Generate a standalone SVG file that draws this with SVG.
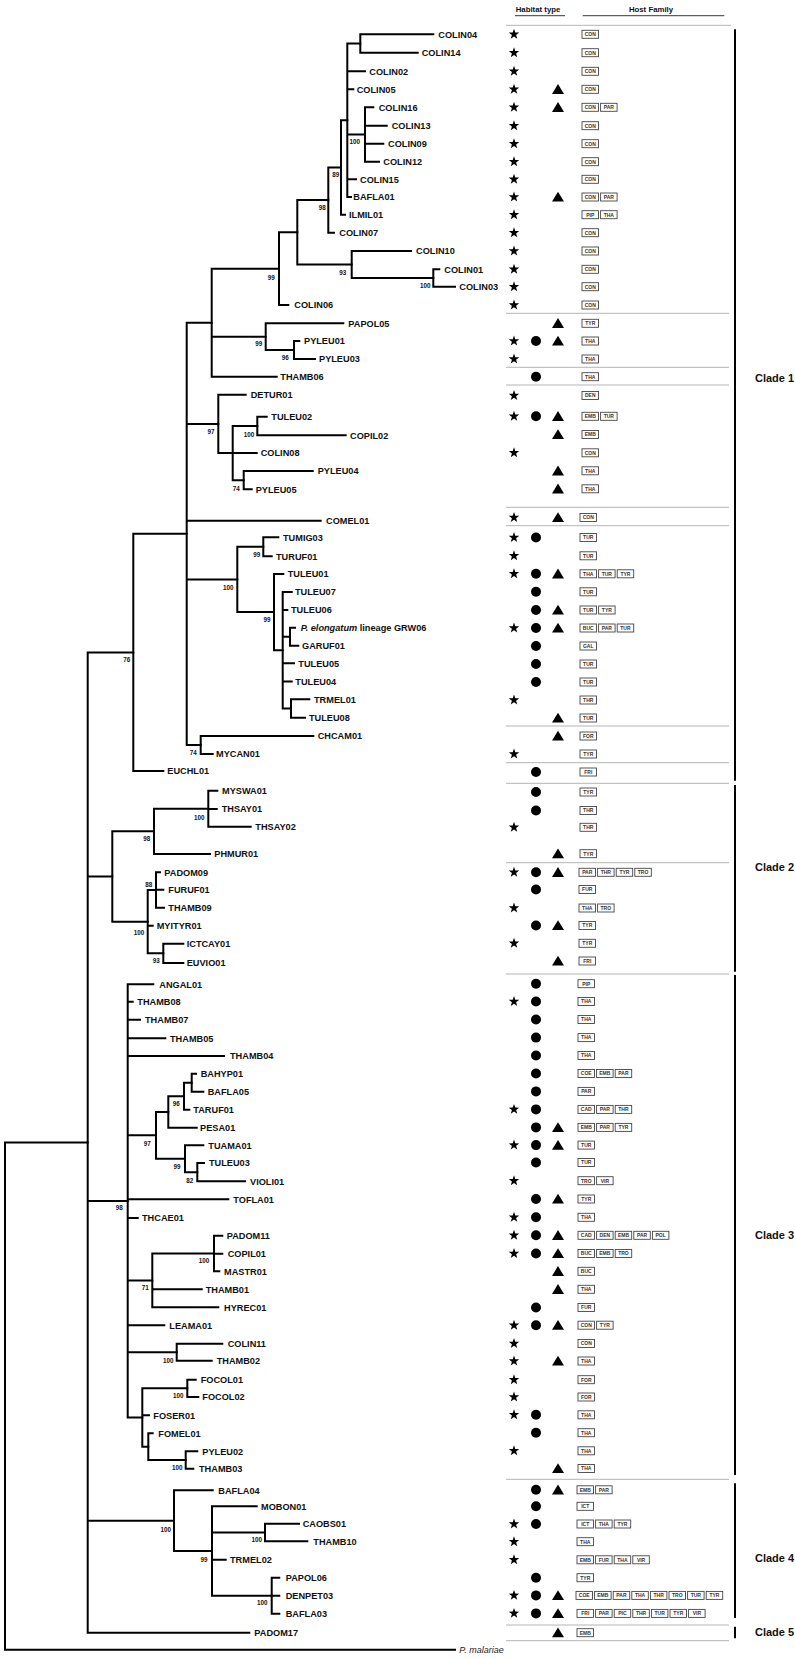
<svg xmlns="http://www.w3.org/2000/svg" xmlns:xlink="http://www.w3.org/1999/xlink" width="795" height="1659" viewBox="0 0 795 1659">
<style>
.br{fill:none;stroke:#000;stroke-width:2;stroke-linecap:square}
.t{font-family:"Liberation Sans",Arial,sans-serif;font-weight:bold;font-size:9.2px;fill:#111}
.bs{font-family:"Liberation Sans",Arial,sans-serif;font-weight:bold;font-size:6.3px;fill:#111;text-anchor:middle}
.hd{font-family:"Liberation Sans",Arial,sans-serif;font-weight:bold;font-size:7.8px;fill:#111;text-anchor:middle}
.cl{font-family:"Liberation Sans",Arial,sans-serif;font-weight:bold;font-size:11px;fill:#111}
.bt{font-family:"Liberation Sans",Arial,sans-serif;font-weight:bold;font-size:5px;fill:#333;text-anchor:middle}
.bx{fill:#fff;stroke:#444;stroke-width:0.9}
.sep{stroke:#b4b4b4;stroke-width:1}
.bar{stroke:#000;stroke-width:2}
</style>
<defs>
<path id="s" d="M0,-5.5 L1.293,-1.78 L5.231,-1.7 L2.092,0.68 L3.233,4.45 L0,2.2 L-3.233,4.45 L-2.092,0.68 L-5.231,-1.7 L-1.293,-1.78 Z" fill="#000"/>
<circle id="c" cx="0" cy="0" r="5" fill="#000"/>
<path id="tr" d="M0,-5.2 L6,4.6 L-6,4.6 Z" fill="#000"/>
<rect id="b" class="bx" x="0" y="-4" width="16.5" height="8"/>
</defs>
<rect width="795" height="1659" fill="#fff"/>

<g id="connectors" class="br">
<path d="M360.3,34.3 V52.7 M360.3,34.3 H433.3 M360.3,52.7 H417.7"/>
<path d="M347.3,43.5 V197 M347.3,43.5 H360.3 M347.3,71.3 H365 M347.3,89.3 H353.3 M347.3,134.5 H365 M347.3,179.3 H356 M347.3,197 H351"/>
<path d="M365,107.3 V161.7 M365,107.3 H373.3 M365,125.7 H386.7 M365,143.7 H383.3 M365,161.7 H379"/>
<path d="M341,120.25 V214.7 M341,120.25 H347.3 M341,214.7 H345"/>
<path d="M328.3,167.5 V232.7 M328.3,167.5 H341 M328.3,232.7 H334"/>
<path d="M433.3,269.3 V286.7 H455 M433.3,269.3 H439.3"/>
<path d="M351.7,251 V278 H433.3 M351.7,251 H411"/>
<path d="M297.3,200.1 V264.5 H351.7 M297.3,200.1 H328.3"/>
<path d="M279,232.3 V305 H288.3 M279,232.3 H297.3"/>
<path d="M294,341 V359 H315 M294,341 H299.3"/>
<path d="M265.7,323.3 V350 H294 M265.7,323.3 H343.3"/>
<path d="M211.7,268.65 V376.7 H276.7 M211.7,268.65 H279 M211.7,336.65 H265.7"/>
<path d="M257.3,416.7 V435.3 H345.7 M257.3,416.7 H266.7"/>
<path d="M243.7,471 V489.3 H251.7 M243.7,471 H312.7"/>
<path d="M232.7,426 V480.15 H243.7 M232.7,426 H257.3 M232.7,453 H256.7"/>
<path d="M218.3,394.7 V453.1 H232.7 M218.3,394.7 H245.7"/>
<path d="M263.3,537.3 V556.3 H271.7 M263.3,537.3 H278.3"/>
<path d="M290,627.7 V645.7 H298.3 M290,627.7 H295"/>
<path d="M291,699.3 V717.7 H305 M291,699.3 H309.3"/>
<path d="M282.7,592 V708.5 H291 M282.7,592 H291.7 M282.7,610 H287.3 M282.7,636.7 H290 M282.7,663.3 H294 M282.7,681.5 H291.7"/>
<path d="M274,574 V650.25 H282.7 M274,574 H283.3"/>
<path d="M237.3,546.8 V612.1 H274 M237.3,546.8 H263.3"/>
<path d="M200.7,736 V754 H212.7 M200.7,736 H313.3"/>
<path d="M186.7,322.7 V745 H200.7 M186.7,322.7 H211.7 M186.7,423.9 H218.3 M186.7,520.7 H320.7 M186.7,579.5 H237.3"/>
<path d="M133.3,533.85 V771 H163.3 M133.3,533.85 H186.7"/>
<path d="M208.3,790.7 V826.7 H250.7 M208.3,790.7 H217.3 M208.3,809 H216.7"/>
<path d="M154,808.7 V854 H210 M154,808.7 H208.3"/>
<path d="M156,872.3 V907.7 H164 M156,872.3 H160 M156,889.7 H163.3"/>
<path d="M163.3,943.7 V963 H183.3 M163.3,943.7 H183.3"/>
<path d="M147.7,890 V953.35 H163.3 M147.7,890 H156 M147.7,925.7 H152.7"/>
<path d="M112.3,831.35 V921.7 H147.7 M112.3,831.35 H154"/>
<path d="M191.7,1073.7 V1091.7 H203.3 M191.7,1073.7 H196"/>
<path d="M184,1082.7 V1109.7 H189.3 M184,1082.7 H191.7"/>
<path d="M168.3,1096.2 V1127.7 H196.7 M168.3,1096.2 H184"/>
<path d="M197.3,1163 V1181.3 H245 M197.3,1163 H204"/>
<path d="M185,1145.3 V1172.15 H197.3 M185,1145.3 H203.3"/>
<path d="M156,1111.95 V1158.7 H185 M156,1111.95 H168.3"/>
<path d="M214,1235.7 V1271.3 H219.3 M214,1235.7 H222.3 M214,1253.7 H222.3"/>
<path d="M152.3,1253.5 V1307.3 H218.3 M152.3,1253.5 H214 M152.3,1289.3 H201.7"/>
<path d="M176.7,1343.7 V1360.7 H211.7 M176.7,1343.7 H222.3"/>
<path d="M187.3,1379.7 V1397 H198.3 M187.3,1379.7 H195.7"/>
<path d="M185.7,1451.3 V1468.7 H193.3 M185.7,1451.3 H197.3"/>
<path d="M148.3,1433.3 V1460 H185.7 M148.3,1433.3 H152.7"/>
<path d="M142.3,1388.35 V1446.65 H148.3 M142.3,1388.35 H187.3 M142.3,1415.3 H149"/>
<path d="M127.7,984.3 V1417.5 H142.3 M127.7,984.3 H153.3 M127.7,1001.7 H132.7 M127.7,1019.7 H140 M127.7,1038.3 H165.3 M127.7,1056 H224 M127.7,1135.3 H156 M127.7,1199.3 H228.3 M127.7,1218 H137.7 M127.7,1280.4 H152.3 M127.7,1325.3 H164.3 M127.7,1352.2 H176.7"/>
<path d="M265,1523.7 V1541.3 H307.3 M265,1523.7 H299"/>
<path d="M271.7,1577.7 V1613.7 H279.3 M271.7,1577.7 H279.3 M271.7,1595.7 H279.3"/>
<path d="M212,1506.3 V1595.7 H271.7 M212,1506.3 H256.7 M212,1532.5 H265 M212,1559.7 H225.7"/>
<path d="M174,1490.3 V1551 H212 M174,1490.3 H212.7"/>
<path d="M87.7,652.4 V1632.7 H249.3 M87.7,652.4 H133.3 M87.7,876.5 H112.3 M87.7,1200.9 H127.7 M87.7,1520.65 H174"/>
<path d="M5,1142.55 V1649.7 H455 M5,1142.55 H87.7"/>
</g>

<g id="taxa">
<text class="t" x="438.3" y="37.6">COLIN04</text>
<text class="t" x="421.7" y="56">COLIN14</text>
<text class="t" x="369.3" y="74.6">COLIN02</text>
<text class="t" x="356.7" y="92.6">COLIN05</text>
<text class="t" x="378.7" y="110.6">COLIN16</text>
<text class="t" x="391.7" y="129">COLIN13</text>
<text class="t" x="388" y="147">COLIN09</text>
<text class="t" x="383.3" y="165">COLIN12</text>
<text class="t" x="360" y="182.6">COLIN15</text>
<text class="t" x="353.3" y="200.3">BAFLA01</text>
<text class="t" x="349" y="218">ILMIL01</text>
<text class="t" x="339.3" y="236">COLIN07</text>
<text class="t" x="416" y="254.3">COLIN10</text>
<text class="t" x="444.3" y="272.6">COLIN01</text>
<text class="t" x="459.3" y="290">COLIN03</text>
<text class="t" x="294.3" y="308.3">COLIN06</text>
<text class="t" x="348.3" y="326.6">PAPOL05</text>
<text class="t" x="304" y="344.3">PYLEU01</text>
<text class="t" x="319" y="362.3">PYLEU03</text>
<text class="t" x="280.3" y="380">THAMB06</text>
<text class="t" x="250.7" y="398">DETUR01</text>
<text class="t" x="271.3" y="420">TULEU02</text>
<text class="t" x="350" y="438.6">COPIL02</text>
<text class="t" x="260.7" y="456.3">COLIN08</text>
<text class="t" x="317.7" y="474.3">PYLEU04</text>
<text class="t" x="255.7" y="492.6">PYLEU05</text>
<text class="t" x="326" y="524">COMEL01</text>
<text class="t" x="283" y="540.6">TUMIG03</text>
<text class="t" x="276" y="559.6">TURUF01</text>
<text class="t" x="287.7" y="577.3">TULEU01</text>
<text class="t" x="295" y="595.3">TULEU07</text>
<text class="t" x="291" y="613.3">TULEU06</text>
<text class="t" x="300.7" y="631"><tspan font-style="italic">P. elongatum</tspan> lineage GRW06</text>
<text class="t" x="302" y="649">GARUF01</text>
<text class="t" x="298.3" y="666.6">TULEU05</text>
<text class="t" x="295.3" y="684.8">TULEU04</text>
<text class="t" x="314" y="702.6">TRMEL01</text>
<text class="t" x="309" y="721">TULEU08</text>
<text class="t" x="317.7" y="739.3">CHCAM01</text>
<text class="t" x="216" y="757.3">MYCAN01</text>
<text class="t" x="167.3" y="774.3">EUCHL01</text>
<text class="t" x="222" y="794">MYSWA01</text>
<text class="t" x="221.7" y="812.3">THSAY01</text>
<text class="t" x="255.3" y="830">THSAY02</text>
<text class="t" x="214.3" y="857.3">PHMUR01</text>
<text class="t" x="164.3" y="875.6">PADOM09</text>
<text class="t" x="168.3" y="893">FURUF01</text>
<text class="t" x="168.3" y="911">THAMB09</text>
<text class="t" x="156.7" y="929">MYITYR01</text>
<text class="t" x="186.7" y="947">ICTCAY01</text>
<text class="t" x="186.7" y="966.3">EUVIO01</text>
<text class="t" x="159.3" y="987.6">ANGAL01</text>
<text class="t" x="137.3" y="1005">THAMB08</text>
<text class="t" x="145" y="1023">THAMB07</text>
<text class="t" x="170" y="1041.6">THAMB05</text>
<text class="t" x="230" y="1059.3">THAMB04</text>
<text class="t" x="200.7" y="1077">BAHYP01</text>
<text class="t" x="207.7" y="1095">BAFLA05</text>
<text class="t" x="193.3" y="1113">TARUF01</text>
<text class="t" x="200" y="1131">PESA01</text>
<text class="t" x="208.3" y="1148.6">TUAMA01</text>
<text class="t" x="209" y="1166.3">TULEU03</text>
<text class="t" x="250" y="1184.6">VIOLI01</text>
<text class="t" x="233.3" y="1202.6">TOFLA01</text>
<text class="t" x="142" y="1221.3">THCAE01</text>
<text class="t" x="226.7" y="1239">PADOM11</text>
<text class="t" x="227.7" y="1257">COPIL01</text>
<text class="t" x="224" y="1274.6">MASTR01</text>
<text class="t" x="205.7" y="1292.6">THAMB01</text>
<text class="t" x="224" y="1310.6">HYREC01</text>
<text class="t" x="169.3" y="1328.6">LEAMA01</text>
<text class="t" x="227.7" y="1347">COLIN11</text>
<text class="t" x="216.7" y="1364">THAMB02</text>
<text class="t" x="200.7" y="1383">FOCOL01</text>
<text class="t" x="202.3" y="1400.3">FOCOL02</text>
<text class="t" x="153.3" y="1418.6">FOSER01</text>
<text class="t" x="158.3" y="1436.6">FOMEL01</text>
<text class="t" x="202.3" y="1454.6">PYLEU02</text>
<text class="t" x="199" y="1472">THAMB03</text>
<text class="t" x="218.3" y="1493.6">BAFLA04</text>
<text class="t" x="261" y="1509.6">MOBON01</text>
<text class="t" x="302.7" y="1527">CAOBS01</text>
<text class="t" x="313.3" y="1544.6">THAMB10</text>
<text class="t" x="230" y="1563">TRMEL02</text>
<text class="t" x="285.7" y="1581">PAPOL06</text>
<text class="t" x="285.7" y="1599">DENPET03</text>
<text class="t" x="285.7" y="1617">BAFLA03</text>
<text class="t" x="254.3" y="1636">PADOM17</text>
<text x="459.3" y="1652.9" font-family="Liberation Sans, Arial, sans-serif" font-style="italic" font-size="9px" fill="#222">P. malariae</text>
</g>

<g id="bootstrap">
<text class="bs" x="354.7" y="143.9">100</text>
<text class="bs" x="335.7" y="177.2">89</text>
<text class="bs" x="322.3" y="209.5">98</text>
<text class="bs" x="342.7" y="274.9">93</text>
<text class="bs" x="425.3" y="288.2">100</text>
<text class="bs" x="271.3" y="279.9">99</text>
<text class="bs" x="258.7" y="345.9">99</text>
<text class="bs" x="285.3" y="359.5">96</text>
<text class="bs" x="211" y="433.9">97</text>
<text class="bs" x="249" y="436.5">100</text>
<text class="bs" x="236.3" y="490.5">74</text>
<text class="bs" x="256.7" y="556.5">99</text>
<text class="bs" x="228.3" y="589.5">100</text>
<text class="bs" x="267" y="622.2">99</text>
<text class="bs" x="193.3" y="754.5">74</text>
<text class="bs" x="126.7" y="662.2">76</text>
<text class="bs" x="199.3" y="819.5">100</text>
<text class="bs" x="146.7" y="840.9">98</text>
<text class="bs" x="148.7" y="886.5">88</text>
<text class="bs" x="139" y="934.5">100</text>
<text class="bs" x="156.3" y="962.9">93</text>
<text class="bs" x="176.3" y="1106.2">96</text>
<text class="bs" x="147.3" y="1145.5">97</text>
<text class="bs" x="177" y="1168.9">99</text>
<text class="bs" x="189.7" y="1182.5">82</text>
<text class="bs" x="119.3" y="1209.5">98</text>
<text class="bs" x="204" y="1262.9">100</text>
<text class="bs" x="145.3" y="1289.5">71</text>
<text class="bs" x="168.3" y="1362.5">100</text>
<text class="bs" x="178.3" y="1397.5">100</text>
<text class="bs" x="177.3" y="1469.5">100</text>
<text class="bs" x="165.7" y="1532.2">100</text>
<text class="bs" x="204" y="1561.9">99</text>
<text class="bs" x="256.7" y="1542.2">100</text>
<text class="bs" x="262.3" y="1604.5">100</text>
</g>

<g id="header">
<text class="hd" x="538" y="11.8">Habitat type</text>
<text class="hd" x="651" y="11.8">Host Family</text>
<line x1="515" y1="15.7" x2="565" y2="15.7" stroke="#222" stroke-width="0.9"/>
<line x1="582.7" y1="15.7" x2="724.3" y2="15.7" stroke="#222" stroke-width="0.9"/>
</g>

<g id="separators" class="sep">
<line x1="506" y1="25.3" x2="731" y2="25.3"/>
<line x1="506" y1="313.3" x2="729" y2="313.3"/>
<line x1="506" y1="367.3" x2="729" y2="367.3"/>
<line x1="506" y1="385" x2="729" y2="385"/>
<line x1="506" y1="507.3" x2="729" y2="507.3"/>
<line x1="506" y1="525.7" x2="729" y2="525.7"/>
<line x1="506" y1="726" x2="729" y2="726"/>
<line x1="506" y1="762.7" x2="729" y2="762.7"/>
<line x1="506" y1="783.3" x2="729" y2="783.3"/>
<line x1="506" y1="862.7" x2="729" y2="862.7"/>
<line x1="506" y1="974" x2="729" y2="974"/>
<line x1="506" y1="1479.3" x2="729" y2="1479.3"/>
<line x1="506" y1="1625" x2="729" y2="1625"/>
<line x1="506" y1="1640.7" x2="729" y2="1640.7"/>
</g>

<g id="clades">
<line class="bar" x1="735" y1="29.3" x2="735" y2="780.7"/>
<line class="bar" x1="735" y1="785" x2="735" y2="971.7"/>
<line class="bar" x1="735" y1="975" x2="735" y2="1475"/>
<line class="bar" x1="735" y1="1483.3" x2="735" y2="1618"/>
<line class="bar" x1="735" y1="1626.7" x2="735" y2="1638.3"/>
<text class="cl" x="755" y="382">Clade 1</text>
<text class="cl" x="755" y="870.7">Clade 2</text>
<text class="cl" x="755" y="1239">Clade 3</text>
<text class="cl" x="755" y="1562.3">Clade 4</text>
<text class="cl" x="755" y="1635.7">Clade 5</text>
</g>

<g id="traits">
<g transform="translate(0,34.3)"><use href="#s" x="514"/><g transform="translate(582,0)"><use href="#b"/><text class="bt" x="8.25" y="1.8">CON</text></g></g>
<g transform="translate(0,52.7)"><use href="#s" x="514"/><g transform="translate(582,0)"><use href="#b"/><text class="bt" x="8.25" y="1.8">CON</text></g></g>
<g transform="translate(0,71.3)"><use href="#s" x="514"/><g transform="translate(582,0)"><use href="#b"/><text class="bt" x="8.25" y="1.8">CON</text></g></g>
<g transform="translate(0,89.3)"><use href="#s" x="514"/><use href="#tr" x="558"/><g transform="translate(582,0)"><use href="#b"/><text class="bt" x="8.25" y="1.8">CON</text></g></g>
<g transform="translate(0,107.3)"><use href="#s" x="514"/><use href="#tr" x="558"/><g transform="translate(582,0)"><use href="#b"/><text class="bt" x="8.25" y="1.8">CON</text><use href="#b" x="18.6"/><text class="bt" x="26.85" y="1.8">PAR</text></g></g>
<g transform="translate(0,125.7)"><use href="#s" x="514"/><g transform="translate(582,0)"><use href="#b"/><text class="bt" x="8.25" y="1.8">CON</text></g></g>
<g transform="translate(0,143.7)"><use href="#s" x="514"/><g transform="translate(582,0)"><use href="#b"/><text class="bt" x="8.25" y="1.8">CON</text></g></g>
<g transform="translate(0,161.7)"><use href="#s" x="514"/><g transform="translate(582,0)"><use href="#b"/><text class="bt" x="8.25" y="1.8">CON</text></g></g>
<g transform="translate(0,179.3)"><use href="#s" x="514"/><g transform="translate(582,0)"><use href="#b"/><text class="bt" x="8.25" y="1.8">CON</text></g></g>
<g transform="translate(0,197)"><use href="#s" x="514"/><use href="#tr" x="558"/><g transform="translate(582,0)"><use href="#b"/><text class="bt" x="8.25" y="1.8">CON</text><use href="#b" x="18.6"/><text class="bt" x="26.85" y="1.8">PAR</text></g></g>
<g transform="translate(0,214.7)"><use href="#s" x="514"/><g transform="translate(582,0)"><use href="#b"/><text class="bt" x="8.25" y="1.8">PIP</text><use href="#b" x="18.6"/><text class="bt" x="26.85" y="1.8">THA</text></g></g>
<g transform="translate(0,232.7)"><use href="#s" x="514"/><g transform="translate(582,0)"><use href="#b"/><text class="bt" x="8.25" y="1.8">CON</text></g></g>
<g transform="translate(0,251)"><use href="#s" x="514"/><g transform="translate(582,0)"><use href="#b"/><text class="bt" x="8.25" y="1.8">CON</text></g></g>
<g transform="translate(0,269.3)"><use href="#s" x="514"/><g transform="translate(582,0)"><use href="#b"/><text class="bt" x="8.25" y="1.8">CON</text></g></g>
<g transform="translate(0,286.7)"><use href="#s" x="514"/><g transform="translate(582,0)"><use href="#b"/><text class="bt" x="8.25" y="1.8">CON</text></g></g>
<g transform="translate(0,305)"><use href="#s" x="514"/><g transform="translate(582,0)"><use href="#b"/><text class="bt" x="8.25" y="1.8">CON</text></g></g>
<g transform="translate(0,323.3)"><use href="#tr" x="558"/><g transform="translate(582,0)"><use href="#b"/><text class="bt" x="8.25" y="1.8">TYR</text></g></g>
<g transform="translate(0,341)"><use href="#s" x="514"/><use href="#c" x="536"/><use href="#tr" x="558"/><g transform="translate(582,0)"><use href="#b"/><text class="bt" x="8.25" y="1.8">THA</text></g></g>
<g transform="translate(0,359)"><use href="#s" x="514"/><g transform="translate(582,0)"><use href="#b"/><text class="bt" x="8.25" y="1.8">THA</text></g></g>
<g transform="translate(0,376.7)"><use href="#c" x="536"/><g transform="translate(582,0)"><use href="#b"/><text class="bt" x="8.25" y="1.8">THA</text></g></g>
<g transform="translate(0,395.5)"><use href="#s" x="514"/><g transform="translate(582,0)"><use href="#b"/><text class="bt" x="8.25" y="1.8">DEN</text></g></g>
<g transform="translate(0,416.3)"><use href="#s" x="514"/><use href="#c" x="536"/><use href="#tr" x="558"/><g transform="translate(582,0)"><use href="#b"/><text class="bt" x="8.25" y="1.8">EMB</text><use href="#b" x="18.6"/><text class="bt" x="26.85" y="1.8">TUR</text></g></g>
<g transform="translate(0,434.5)"><use href="#tr" x="558"/><g transform="translate(582,0)"><use href="#b"/><text class="bt" x="8.25" y="1.8">EMB</text></g></g>
<g transform="translate(0,452.8)"><use href="#s" x="514"/><g transform="translate(582,0)"><use href="#b"/><text class="bt" x="8.25" y="1.8">CON</text></g></g>
<g transform="translate(0,470.8)"><use href="#tr" x="558"/><g transform="translate(582,0)"><use href="#b"/><text class="bt" x="8.25" y="1.8">THA</text></g></g>
<g transform="translate(0,488.8)"><use href="#tr" x="558"/><g transform="translate(582,0)"><use href="#b"/><text class="bt" x="8.25" y="1.8">THA</text></g></g>
<g transform="translate(0,517.5)"><use href="#s" x="514"/><use href="#tr" x="558"/><g transform="translate(580,0)"><use href="#b"/><text class="bt" x="8.25" y="1.8">CON</text></g></g>
<g transform="translate(0,537.5)"><use href="#s" x="514"/><use href="#c" x="536"/><g transform="translate(580,0)"><use href="#b"/><text class="bt" x="8.25" y="1.8">TUR</text></g></g>
<g transform="translate(0,555.8)"><use href="#s" x="514"/><g transform="translate(580,0)"><use href="#b"/><text class="bt" x="8.25" y="1.8">TUR</text></g></g>
<g transform="translate(0,573.8)"><use href="#s" x="514"/><use href="#c" x="536"/><use href="#tr" x="558"/><g transform="translate(580,0)"><use href="#b"/><text class="bt" x="8.25" y="1.8">THA</text><use href="#b" x="18.6"/><text class="bt" x="26.85" y="1.8">TUR</text><use href="#b" x="37.2"/><text class="bt" x="45.45" y="1.8">TYR</text></g></g>
<g transform="translate(0,591.8)"><use href="#c" x="536"/><g transform="translate(580,0)"><use href="#b"/><text class="bt" x="8.25" y="1.8">TUR</text></g></g>
<g transform="translate(0,610)"><use href="#c" x="536"/><use href="#tr" x="558"/><g transform="translate(580,0)"><use href="#b"/><text class="bt" x="8.25" y="1.8">TUR</text><use href="#b" x="18.6"/><text class="bt" x="26.85" y="1.8">TYR</text></g></g>
<g transform="translate(0,628)"><use href="#s" x="514"/><use href="#c" x="536"/><use href="#tr" x="558"/><g transform="translate(580,0)"><use href="#b"/><text class="bt" x="8.25" y="1.8">BUC</text><use href="#b" x="18.6"/><text class="bt" x="26.85" y="1.8">PAR</text><use href="#b" x="37.2"/><text class="bt" x="45.45" y="1.8">TUR</text></g></g>
<g transform="translate(0,646)"><use href="#c" x="536"/><g transform="translate(580,0)"><use href="#b"/><text class="bt" x="8.25" y="1.8">GAL</text></g></g>
<g transform="translate(0,664)"><use href="#c" x="536"/><g transform="translate(580,0)"><use href="#b"/><text class="bt" x="8.25" y="1.8">TUR</text></g></g>
<g transform="translate(0,682)"><use href="#c" x="536"/><g transform="translate(580,0)"><use href="#b"/><text class="bt" x="8.25" y="1.8">TUR</text></g></g>
<g transform="translate(0,700)"><use href="#s" x="514"/><g transform="translate(580,0)"><use href="#b"/><text class="bt" x="8.25" y="1.8">THR</text></g></g>
<g transform="translate(0,718)"><use href="#tr" x="558"/><g transform="translate(580,0)"><use href="#b"/><text class="bt" x="8.25" y="1.8">TUR</text></g></g>
<g transform="translate(0,736)"><use href="#tr" x="558"/><g transform="translate(580,0)"><use href="#b"/><text class="bt" x="8.25" y="1.8">FOR</text></g></g>
<g transform="translate(0,754)"><use href="#s" x="514"/><g transform="translate(580,0)"><use href="#b"/><text class="bt" x="8.25" y="1.8">TYR</text></g></g>
<g transform="translate(0,772)"><use href="#c" x="536"/><g transform="translate(580,0)"><use href="#b"/><text class="bt" x="8.25" y="1.8">FRI</text></g></g>
<g transform="translate(0,792)"><use href="#c" x="536"/><g transform="translate(580,0)"><use href="#b"/><text class="bt" x="8.25" y="1.8">TYR</text></g></g>
<g transform="translate(0,810.5)"><use href="#c" x="536"/><g transform="translate(580,0)"><use href="#b"/><text class="bt" x="8.25" y="1.8">THR</text></g></g>
<g transform="translate(0,827.3)"><use href="#s" x="514"/><g transform="translate(580,0)"><use href="#b"/><text class="bt" x="8.25" y="1.8">THR</text></g></g>
<g transform="translate(0,853.7)"><use href="#tr" x="558"/><g transform="translate(580,0)"><use href="#b"/><text class="bt" x="8.25" y="1.8">TYR</text></g></g>
<g transform="translate(0,872.3)"><use href="#s" x="514"/><use href="#c" x="536"/><use href="#tr" x="558"/><g transform="translate(579,0)"><use href="#b"/><text class="bt" x="8.25" y="1.8">PAR</text><use href="#b" x="18.6"/><text class="bt" x="26.85" y="1.8">THR</text><use href="#b" x="37.2"/><text class="bt" x="45.45" y="1.8">TYR</text><use href="#b" x="55.8"/><text class="bt" x="64.05" y="1.8">TRO</text></g></g>
<g transform="translate(0,889.5)"><use href="#c" x="536"/><g transform="translate(579,0)"><use href="#b"/><text class="bt" x="8.25" y="1.8">FUR</text></g></g>
<g transform="translate(0,908)"><use href="#s" x="514"/><g transform="translate(579,0)"><use href="#b"/><text class="bt" x="8.25" y="1.8">THA</text><use href="#b" x="18.6"/><text class="bt" x="26.85" y="1.8">TRO</text></g></g>
<g transform="translate(0,925.5)"><use href="#c" x="536"/><use href="#tr" x="558"/><g transform="translate(579,0)"><use href="#b"/><text class="bt" x="8.25" y="1.8">TYR</text></g></g>
<g transform="translate(0,943.3)"><use href="#s" x="514"/><g transform="translate(579,0)"><use href="#b"/><text class="bt" x="8.25" y="1.8">TYR</text></g></g>
<g transform="translate(0,961)"><use href="#tr" x="558"/><g transform="translate(579,0)"><use href="#b"/><text class="bt" x="8.25" y="1.8">FRI</text></g></g>
<g transform="translate(0,983.7)"><use href="#c" x="536"/><g transform="translate(578,0)"><use href="#b"/><text class="bt" x="8.25" y="1.8">PIP</text></g></g>
<g transform="translate(0,1001.5)"><use href="#s" x="514"/><use href="#c" x="536"/><g transform="translate(578,0)"><use href="#b"/><text class="bt" x="8.25" y="1.8">THA</text></g></g>
<g transform="translate(0,1019.5)"><use href="#c" x="536"/><g transform="translate(578,0)"><use href="#b"/><text class="bt" x="8.25" y="1.8">THA</text></g></g>
<g transform="translate(0,1037.6)"><use href="#c" x="536"/><g transform="translate(578,0)"><use href="#b"/><text class="bt" x="8.25" y="1.8">THA</text></g></g>
<g transform="translate(0,1055.5)"><use href="#c" x="536"/><g transform="translate(578,0)"><use href="#b"/><text class="bt" x="8.25" y="1.8">THA</text></g></g>
<g transform="translate(0,1073.5)"><use href="#c" x="536"/><g transform="translate(578,0)"><use href="#b"/><text class="bt" x="8.25" y="1.8">COE</text><use href="#b" x="18.6"/><text class="bt" x="26.85" y="1.8">EMB</text><use href="#b" x="37.2"/><text class="bt" x="45.45" y="1.8">PAR</text></g></g>
<g transform="translate(0,1091.4)"><use href="#c" x="536"/><g transform="translate(578,0)"><use href="#b"/><text class="bt" x="8.25" y="1.8">PAR</text></g></g>
<g transform="translate(0,1109.4)"><use href="#s" x="514"/><use href="#c" x="536"/><g transform="translate(578,0)"><use href="#b"/><text class="bt" x="8.25" y="1.8">CAD</text><use href="#b" x="18.6"/><text class="bt" x="26.85" y="1.8">PAR</text><use href="#b" x="37.2"/><text class="bt" x="45.45" y="1.8">THR</text></g></g>
<g transform="translate(0,1127.4)"><use href="#c" x="536"/><use href="#tr" x="558"/><g transform="translate(578,0)"><use href="#b"/><text class="bt" x="8.25" y="1.8">EMB</text><use href="#b" x="18.6"/><text class="bt" x="26.85" y="1.8">PAR</text><use href="#b" x="37.2"/><text class="bt" x="45.45" y="1.8">TYR</text></g></g>
<g transform="translate(0,1145.1)"><use href="#s" x="514"/><use href="#c" x="536"/><use href="#tr" x="558"/><g transform="translate(578,0)"><use href="#b"/><text class="bt" x="8.25" y="1.8">TUR</text></g></g>
<g transform="translate(0,1162.5)"><use href="#c" x="536"/><g transform="translate(578,0)"><use href="#b"/><text class="bt" x="8.25" y="1.8">TUR</text></g></g>
<g transform="translate(0,1180.7)"><use href="#s" x="514"/><g transform="translate(578,0)"><use href="#b"/><text class="bt" x="8.25" y="1.8">TRO</text><use href="#b" x="18.6"/><text class="bt" x="26.85" y="1.8">VIR</text></g></g>
<g transform="translate(0,1199)"><use href="#c" x="536"/><use href="#tr" x="558"/><g transform="translate(578,0)"><use href="#b"/><text class="bt" x="8.25" y="1.8">TYR</text></g></g>
<g transform="translate(0,1217.3)"><use href="#s" x="514"/><use href="#c" x="536"/><g transform="translate(578,0)"><use href="#b"/><text class="bt" x="8.25" y="1.8">THA</text></g></g>
<g transform="translate(0,1235.3)"><use href="#s" x="514"/><use href="#c" x="536"/><use href="#tr" x="558"/><g transform="translate(578,0)"><use href="#b"/><text class="bt" x="8.25" y="1.8">CAD</text><use href="#b" x="18.6"/><text class="bt" x="26.85" y="1.8">DEN</text><use href="#b" x="37.2"/><text class="bt" x="45.45" y="1.8">EMB</text><use href="#b" x="55.8"/><text class="bt" x="64.05" y="1.8">PAR</text><use href="#b" x="74.4"/><text class="bt" x="82.65" y="1.8">POL</text></g></g>
<g transform="translate(0,1253.5)"><use href="#s" x="514"/><use href="#c" x="536"/><use href="#tr" x="558"/><g transform="translate(578,0)"><use href="#b"/><text class="bt" x="8.25" y="1.8">BUC</text><use href="#b" x="18.6"/><text class="bt" x="26.85" y="1.8">EMB</text><use href="#b" x="37.2"/><text class="bt" x="45.45" y="1.8">TRO</text></g></g>
<g transform="translate(0,1271.3)"><use href="#tr" x="558"/><g transform="translate(578,0)"><use href="#b"/><text class="bt" x="8.25" y="1.8">BUC</text></g></g>
<g transform="translate(0,1289.3)"><use href="#tr" x="558"/><g transform="translate(578,0)"><use href="#b"/><text class="bt" x="8.25" y="1.8">THA</text></g></g>
<g transform="translate(0,1307.5)"><use href="#c" x="536"/><g transform="translate(578,0)"><use href="#b"/><text class="bt" x="8.25" y="1.8">FUR</text></g></g>
<g transform="translate(0,1325.2)"><use href="#s" x="514"/><use href="#c" x="536"/><use href="#tr" x="558"/><g transform="translate(578,0)"><use href="#b"/><text class="bt" x="8.25" y="1.8">CON</text><use href="#b" x="18.6"/><text class="bt" x="26.85" y="1.8">TYR</text></g></g>
<g transform="translate(0,1343.5)"><use href="#s" x="514"/><g transform="translate(578,0)"><use href="#b"/><text class="bt" x="8.25" y="1.8">CON</text></g></g>
<g transform="translate(0,1361)"><use href="#s" x="514"/><use href="#tr" x="558"/><g transform="translate(578,0)"><use href="#b"/><text class="bt" x="8.25" y="1.8">THA</text></g></g>
<g transform="translate(0,1379.7)"><use href="#s" x="514"/><g transform="translate(578,0)"><use href="#b"/><text class="bt" x="8.25" y="1.8">FOR</text></g></g>
<g transform="translate(0,1397)"><use href="#s" x="514"/><g transform="translate(578,0)"><use href="#b"/><text class="bt" x="8.25" y="1.8">FOR</text></g></g>
<g transform="translate(0,1414.8)"><use href="#s" x="514"/><use href="#c" x="536"/><g transform="translate(578,0)"><use href="#b"/><text class="bt" x="8.25" y="1.8">THA</text></g></g>
<g transform="translate(0,1432.7)"><use href="#c" x="536"/><g transform="translate(578,0)"><use href="#b"/><text class="bt" x="8.25" y="1.8">THA</text></g></g>
<g transform="translate(0,1450.8)"><use href="#s" x="514"/><g transform="translate(578,0)"><use href="#b"/><text class="bt" x="8.25" y="1.8">THA</text></g></g>
<g transform="translate(0,1468.5)"><use href="#tr" x="558"/><g transform="translate(578,0)"><use href="#b"/><text class="bt" x="8.25" y="1.8">THA</text></g></g>
<g transform="translate(0,1489.8)"><use href="#c" x="536"/><use href="#tr" x="558"/><g transform="translate(577,0)"><use href="#b"/><text class="bt" x="8.25" y="1.8">EMB</text><use href="#b" x="18.6"/><text class="bt" x="26.85" y="1.8">PAR</text></g></g>
<g transform="translate(0,1506.3)"><use href="#c" x="536"/><g transform="translate(577,0)"><use href="#b"/><text class="bt" x="8.25" y="1.8">ICT</text></g></g>
<g transform="translate(0,1524)"><use href="#s" x="514"/><use href="#c" x="536"/><g transform="translate(577,0)"><use href="#b"/><text class="bt" x="8.25" y="1.8">ICT</text><use href="#b" x="18.6"/><text class="bt" x="26.85" y="1.8">THA</text><use href="#b" x="37.2"/><text class="bt" x="45.45" y="1.8">TYR</text></g></g>
<g transform="translate(0,1541.7)"><use href="#s" x="514"/><g transform="translate(577,0)"><use href="#b"/><text class="bt" x="8.25" y="1.8">THA</text></g></g>
<g transform="translate(0,1559.8)"><use href="#s" x="514"/><g transform="translate(577,0)"><use href="#b"/><text class="bt" x="8.25" y="1.8">EMB</text><use href="#b" x="18.6"/><text class="bt" x="26.85" y="1.8">FUR</text><use href="#b" x="37.2"/><text class="bt" x="45.45" y="1.8">THA</text><use href="#b" x="55.8"/><text class="bt" x="64.05" y="1.8">VIR</text></g></g>
<g transform="translate(0,1577.7)"><use href="#c" x="536"/><g transform="translate(577,0)"><use href="#b"/><text class="bt" x="8.25" y="1.8">TYR</text></g></g>
<g transform="translate(0,1595.4)"><use href="#s" x="514"/><use href="#c" x="536"/><use href="#tr" x="558"/><g transform="translate(576,0)"><use href="#b"/><text class="bt" x="8.25" y="1.8">COE</text><use href="#b" x="18.6"/><text class="bt" x="26.85" y="1.8">EMB</text><use href="#b" x="37.2"/><text class="bt" x="45.45" y="1.8">PAR</text><use href="#b" x="55.8"/><text class="bt" x="64.05" y="1.8">THA</text><use href="#b" x="74.4"/><text class="bt" x="82.65" y="1.8">THR</text><use href="#b" x="93"/><text class="bt" x="101.25" y="1.8">TRO</text><use href="#b" x="111.6"/><text class="bt" x="119.85" y="1.8">TUR</text><use href="#b" x="130.2"/><text class="bt" x="138.45" y="1.8">TYR</text></g></g>
<g transform="translate(0,1613.4)"><use href="#s" x="514"/><use href="#c" x="536"/><use href="#tr" x="558"/><g transform="translate(577,0)"><use href="#b"/><text class="bt" x="8.25" y="1.8">FRI</text><use href="#b" x="18.6"/><text class="bt" x="26.85" y="1.8">PAR</text><use href="#b" x="37.2"/><text class="bt" x="45.45" y="1.8">PIC</text><use href="#b" x="55.8"/><text class="bt" x="64.05" y="1.8">THR</text><use href="#b" x="74.4"/><text class="bt" x="82.65" y="1.8">TUR</text><use href="#b" x="93"/><text class="bt" x="101.25" y="1.8">TYR</text><use href="#b" x="111.6"/><text class="bt" x="119.85" y="1.8">VIR</text></g></g>
<g transform="translate(0,1632.7)"><use href="#tr" x="558"/><g transform="translate(577,0)"><use href="#b"/><text class="bt" x="8.25" y="1.8">EMB</text></g></g>
</g>
</svg>
